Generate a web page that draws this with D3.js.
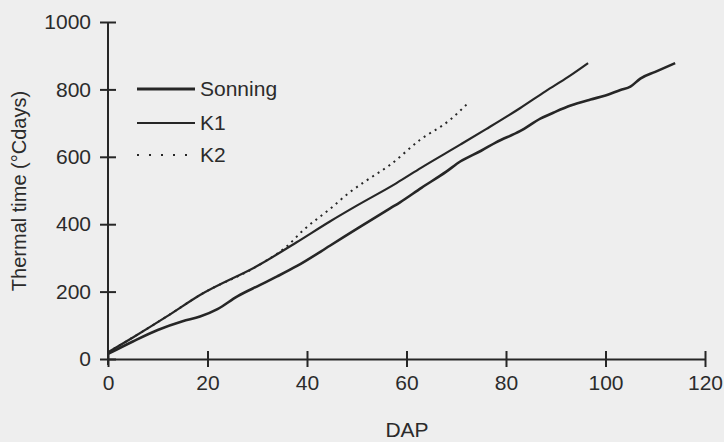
<!DOCTYPE html>
<html><head><meta charset="utf-8">
<script src="https://cdn.jsdelivr.net/npm/d3@7"></script>
<style>
html,body{margin:0;padding:0;background:#eeeeee;}
svg{display:block;}
text{font-family:"Liberation Sans",Arial,sans-serif;fill:#2b2b2b;}
</style></head>
<body>
<svg id="chart" width="724" height="442"></svg>
<script>
// ---- data ----
const sonningDAP = [0,5,10,15,18.5,22,26,30.6,34,38,44.6,50,56.7,58.7,63,68,70.8,75,78,82.8,87,90,93,97,100,103,105,107,110,114];
const sonningTT  = [15,52,86,112,126,148,186,220,245,276,336,386,447,465,508,556,586,618,643,676,714,734,752,770,782,798,808,832,852,878];
const k1DAP = [0,5,12,18.5,30.6,38,44.6,50,58,63,70.8,76,82.8,88,92.5,96.5];
const k1TT  = [20,64,128,190,281,347,408,455,522,568,636,682,744,795,837,878];
const k2DAP = [0,5,12,18.5,30.6,36,39.3,44.6,48.6,52,56.7,62.7,68.7,72.4];
const k2TT  = [20,64,128,190,281,335,383,445,495,530,576,650,709,760];
const xTicks = [0,20,40,60,80,100,120];
const yTicks = [0,200,400,600,800,1000];
const seriesNames = ["Sonning","K1","K2"];

const svg = d3.select("#chart");
const x = d3.scaleLinear().domain([0,120]).range([108,705]);
const y = d3.scaleLinear().domain([0,1000]).range([359,22]);
const ink = "#262626";
const fs = 21;

// axes
const gx = svg.append("g").attr("transform",`translate(0,${y(0)})`)
  .call(d3.axisBottom(x).tickValues(xTicks).tickFormat(d3.format("d")).tickSize(8).tickPadding(19).tickSizeOuter(0));
gx.selectAll(".tick line").attr("y1",-8).attr("y2",8).attr("stroke",ink).attr("stroke-width",2);
gx.select(".domain").attr("stroke",ink).attr("stroke-width",2);
gx.selectAll(".tick text").attr("font-size",fs).attr("dy","0.2em").style("font-family","Liberation Sans, Arial, sans-serif").attr("fill","#2b2b2b");

const gy = svg.append("g").attr("transform",`translate(${x(0)},0)`)
  .call(d3.axisLeft(y).tickValues(yTicks).tickFormat(d3.format("d")).tickSize(8).tickPadding(9).tickSizeOuter(0));
gy.selectAll(".tick line").attr("x1",-8).attr("x2",8).attr("stroke",ink).attr("stroke-width",2);
gy.select(".domain").attr("stroke",ink).attr("stroke-width",2).attr("d",`M0,${y(1000)}V${y(0)+6}`);
gy.selectAll(".tick text").attr("font-size",fs).style("font-family","Liberation Sans, Arial, sans-serif").attr("fill","#2b2b2b");

// titles
svg.append("text").attr("x",407).attr("y",437).attr("text-anchor","middle").attr("font-size",fs).text("DAP");
svg.append("text").attr("transform","translate(26,191) rotate(-90)").attr("text-anchor","middle").attr("font-size",20).text("Thermal time (°Cdays)");

// lines
const line = d3.line().x(d=>x(d[0])).y(d=>y(d[1])).curve(d3.curveMonotoneX);
const zip = (a,b)=>a.map((v,i)=>[v,b[i]]);
svg.append("path").datum(zip(k2DAP,k2TT)).attr("d",line).attr("fill","none")
  .attr("stroke",ink).attr("stroke-width",2).attr("stroke-dasharray","2,4.5");
svg.append("path").datum(zip(k1DAP,k1TT)).attr("d",line).attr("fill","none")
  .attr("stroke",ink).attr("stroke-width",2.2);
svg.append("path").datum(zip(sonningDAP,sonningTT)).attr("d",line).attr("fill","none")
  .attr("stroke",ink).attr("stroke-width",2.6);

// legend
const lg = svg.append("g");
const legY = [89,123,155];
const legW = [3,2,2];
const legDash = [null,null,"2,10"];
seriesNames.forEach((n,i)=>{
  lg.append("line").attr("x1",137).attr("x2",i===2?190:195).attr("y1",legY[i]).attr("y2",legY[i])
    .attr("stroke",ink).attr("stroke-width",legW[i]).attr("stroke-dasharray",legDash[i]);
  lg.append("text").attr("x",200).attr("y",legY[i]).attr("dy","0.35em").attr("font-size",fs).text(n);
});
</script>
</body></html>
